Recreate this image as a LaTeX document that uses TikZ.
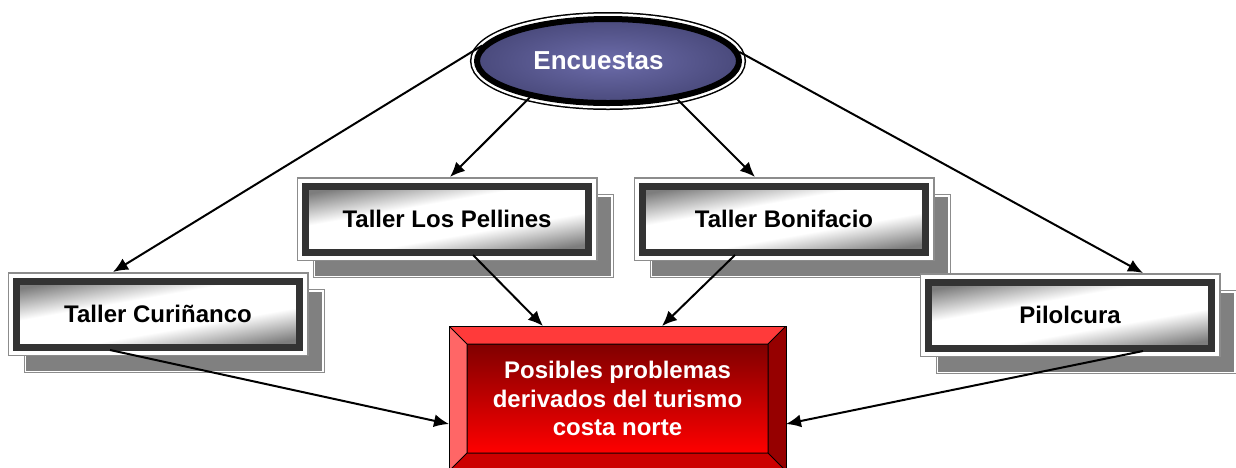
\documentclass[tikz,border=0pt]{standalone}
\usepackage{fontspec}
\setmainfont{Liberation Sans}
\usepackage{xcolor}
\usepackage{pgf,tikz}
\usetikzlibrary{shapes,shadows,arrows.meta,positioning,calc}

\definecolor{encdark}{RGB}{74,74,124}
\definecolor{enclight}{RGB}{108,108,170}
\definecolor{framegray}{RGB}{51,51,51}
\definecolor{shadefill}{RGB}{128,128,128}
\definecolor{shadeline}{RGB}{140,140,140}
\definecolor{boxdark}{RGB}{125,125,125}
\definecolor{redtop}{RGB}{255,58,58}
\definecolor{redleft}{RGB}{255,102,102}
\definecolor{redright}{RGB}{150,0,0}
\definecolor{redbottom}{RGB}{204,0,0}
\definecolor{redfacetop}{RGB}{128,0,0}
\definecolor{redfacebot}{RGB}{255,0,0}

\pgfdeclareverticalshading{tallershade}{100bp}{color(0bp)=(boxdark); color(25bp)=(boxdark);
  color(41bp)=(white); color(59bp)=(white); color(75bp)=(boxdark); color(100bp)=(boxdark)}

\tikzset{
  encuesta/.style={ellipse, minimum width=262pt, minimum height=84pt, inner sep=0pt,
    preaction={draw=black, line width=14pt},
    preaction={draw=white, line width=11pt},
    draw=black, line width=6pt,
    shading=radial, inner color=enclight, outer color=encdark,
    text=white, font=\fontsize{26}{30}\selectfont\bfseries},
  taller/.style={rectangle, minimum width=283pt, minimum height=66pt, inner sep=0pt, outer sep=9pt,
    general shadow={shadow xshift=16pt, shadow yshift=-17pt, draw=shadeline, line width=18pt},
    general shadow={shadow xshift=16pt, shadow yshift=-17pt, draw=white, line width=16pt},
    general shadow={shadow xshift=16pt, shadow yshift=-17pt, fill=shadefill, draw=shadefill, line width=13pt},
    preaction={draw=shadeline, line width=18pt},
    preaction={draw=white, line width=15pt},
    shading=tallershade, shading angle=10,
    draw=framegray, line width=7pt,
    font=\fontsize{24}{28}\selectfont\bfseries},
  problema/.style={rectangle, minimum width=337pt, minimum height=145pt, inner sep=0pt, outer sep=0pt,
    draw=black, line width=1pt, text=white, align=center,
    font=\fontsize{24}{28.5}\selectfont\bfseries,
    path picture={
      \coordinate (nw) at (path picture bounding box.north west);
      \coordinate (ne) at (path picture bounding box.north east);
      \coordinate (sw) at (path picture bounding box.south west);
      \coordinate (se) at (path picture bounding box.south east);
      \coordinate (inw) at ([xshift=18pt,yshift=-18pt]nw);
      \coordinate (ine) at ([xshift=-18pt,yshift=-18pt]ne);
      \coordinate (isw) at ([xshift=18pt,yshift=18pt]sw);
      \coordinate (ise) at ([xshift=-18pt,yshift=18pt]se);
      \fill[redtop] (nw) -- (ne) -- (ine) -- (inw) -- cycle;
      \fill[redleft] (nw) -- (sw) -- (isw) -- (inw) -- cycle;
      \fill[redright] (ne) -- (se) -- (ise) -- (ine) -- cycle;
      \fill[redbottom] (sw) -- (se) -- (ise) -- (isw) -- cycle;
      \shade[top color=redfacetop, bottom color=redfacebot] (inw) rectangle (ise);
      \draw[line width=1pt] (inw) rectangle (ise) (nw) -- (inw) (ne) -- (ine) (sw) -- (isw) (se) -- (ise);
    }},
  arr/.style={-{Latex[length=15pt,width=13pt]}, line width=2pt}
}

\begin{document}
\begin{tikzpicture}[x=1pt,y=-1pt]
    \useasboundingbox (0,0) rectangle (1236,467);
    \node[encuesta] (enc) at (608,61) {Encuestas\kern19pt};
    \node[taller] (pel) at (447,219) {Taller Los Pellines};
    \node[taller] (bon) at (784,219) {Taller Bonifacio};
    \node[taller] (cur) at (158,314) {Taller Curiñanco};
    \node[taller] (pil) at (1070,315) {Pilolcura};
    \node[problema] (prob) at (617.5,398.5) {Posibles problemas\\derivados del turismo\\costa norte};
    % from the surveys to each workshop
    \path [arr] (enc.173) edge ([xshift=-45pt]cur.north);
    \path [arr] (enc.205) edge ([xshift=3pt]pel.north);
    \path [arr] (enc.-29) edge ([xshift=-29pt]bon.north);
    \path [arr] (enc.4) edge ([xshift=73pt]pil.north);
    % workshops to the problems box
    \path [arr] ([xshift=-48pt,yshift=6pt]cur.south) edge ([yshift=-25.5pt]prob.west);
    \path [arr] ([xshift=26pt,yshift=6pt]pel.south) edge ([xshift=-74.5pt]prob.north);
    \path [arr] ([xshift=-49pt,yshift=6pt]bon.south) edge ([xshift=44.5pt]prob.north);
    \path [arr] ([xshift=73pt,yshift=6pt]pil.south) edge ([yshift=-25.5pt]prob.east);
\end{tikzpicture}
\end{document}
